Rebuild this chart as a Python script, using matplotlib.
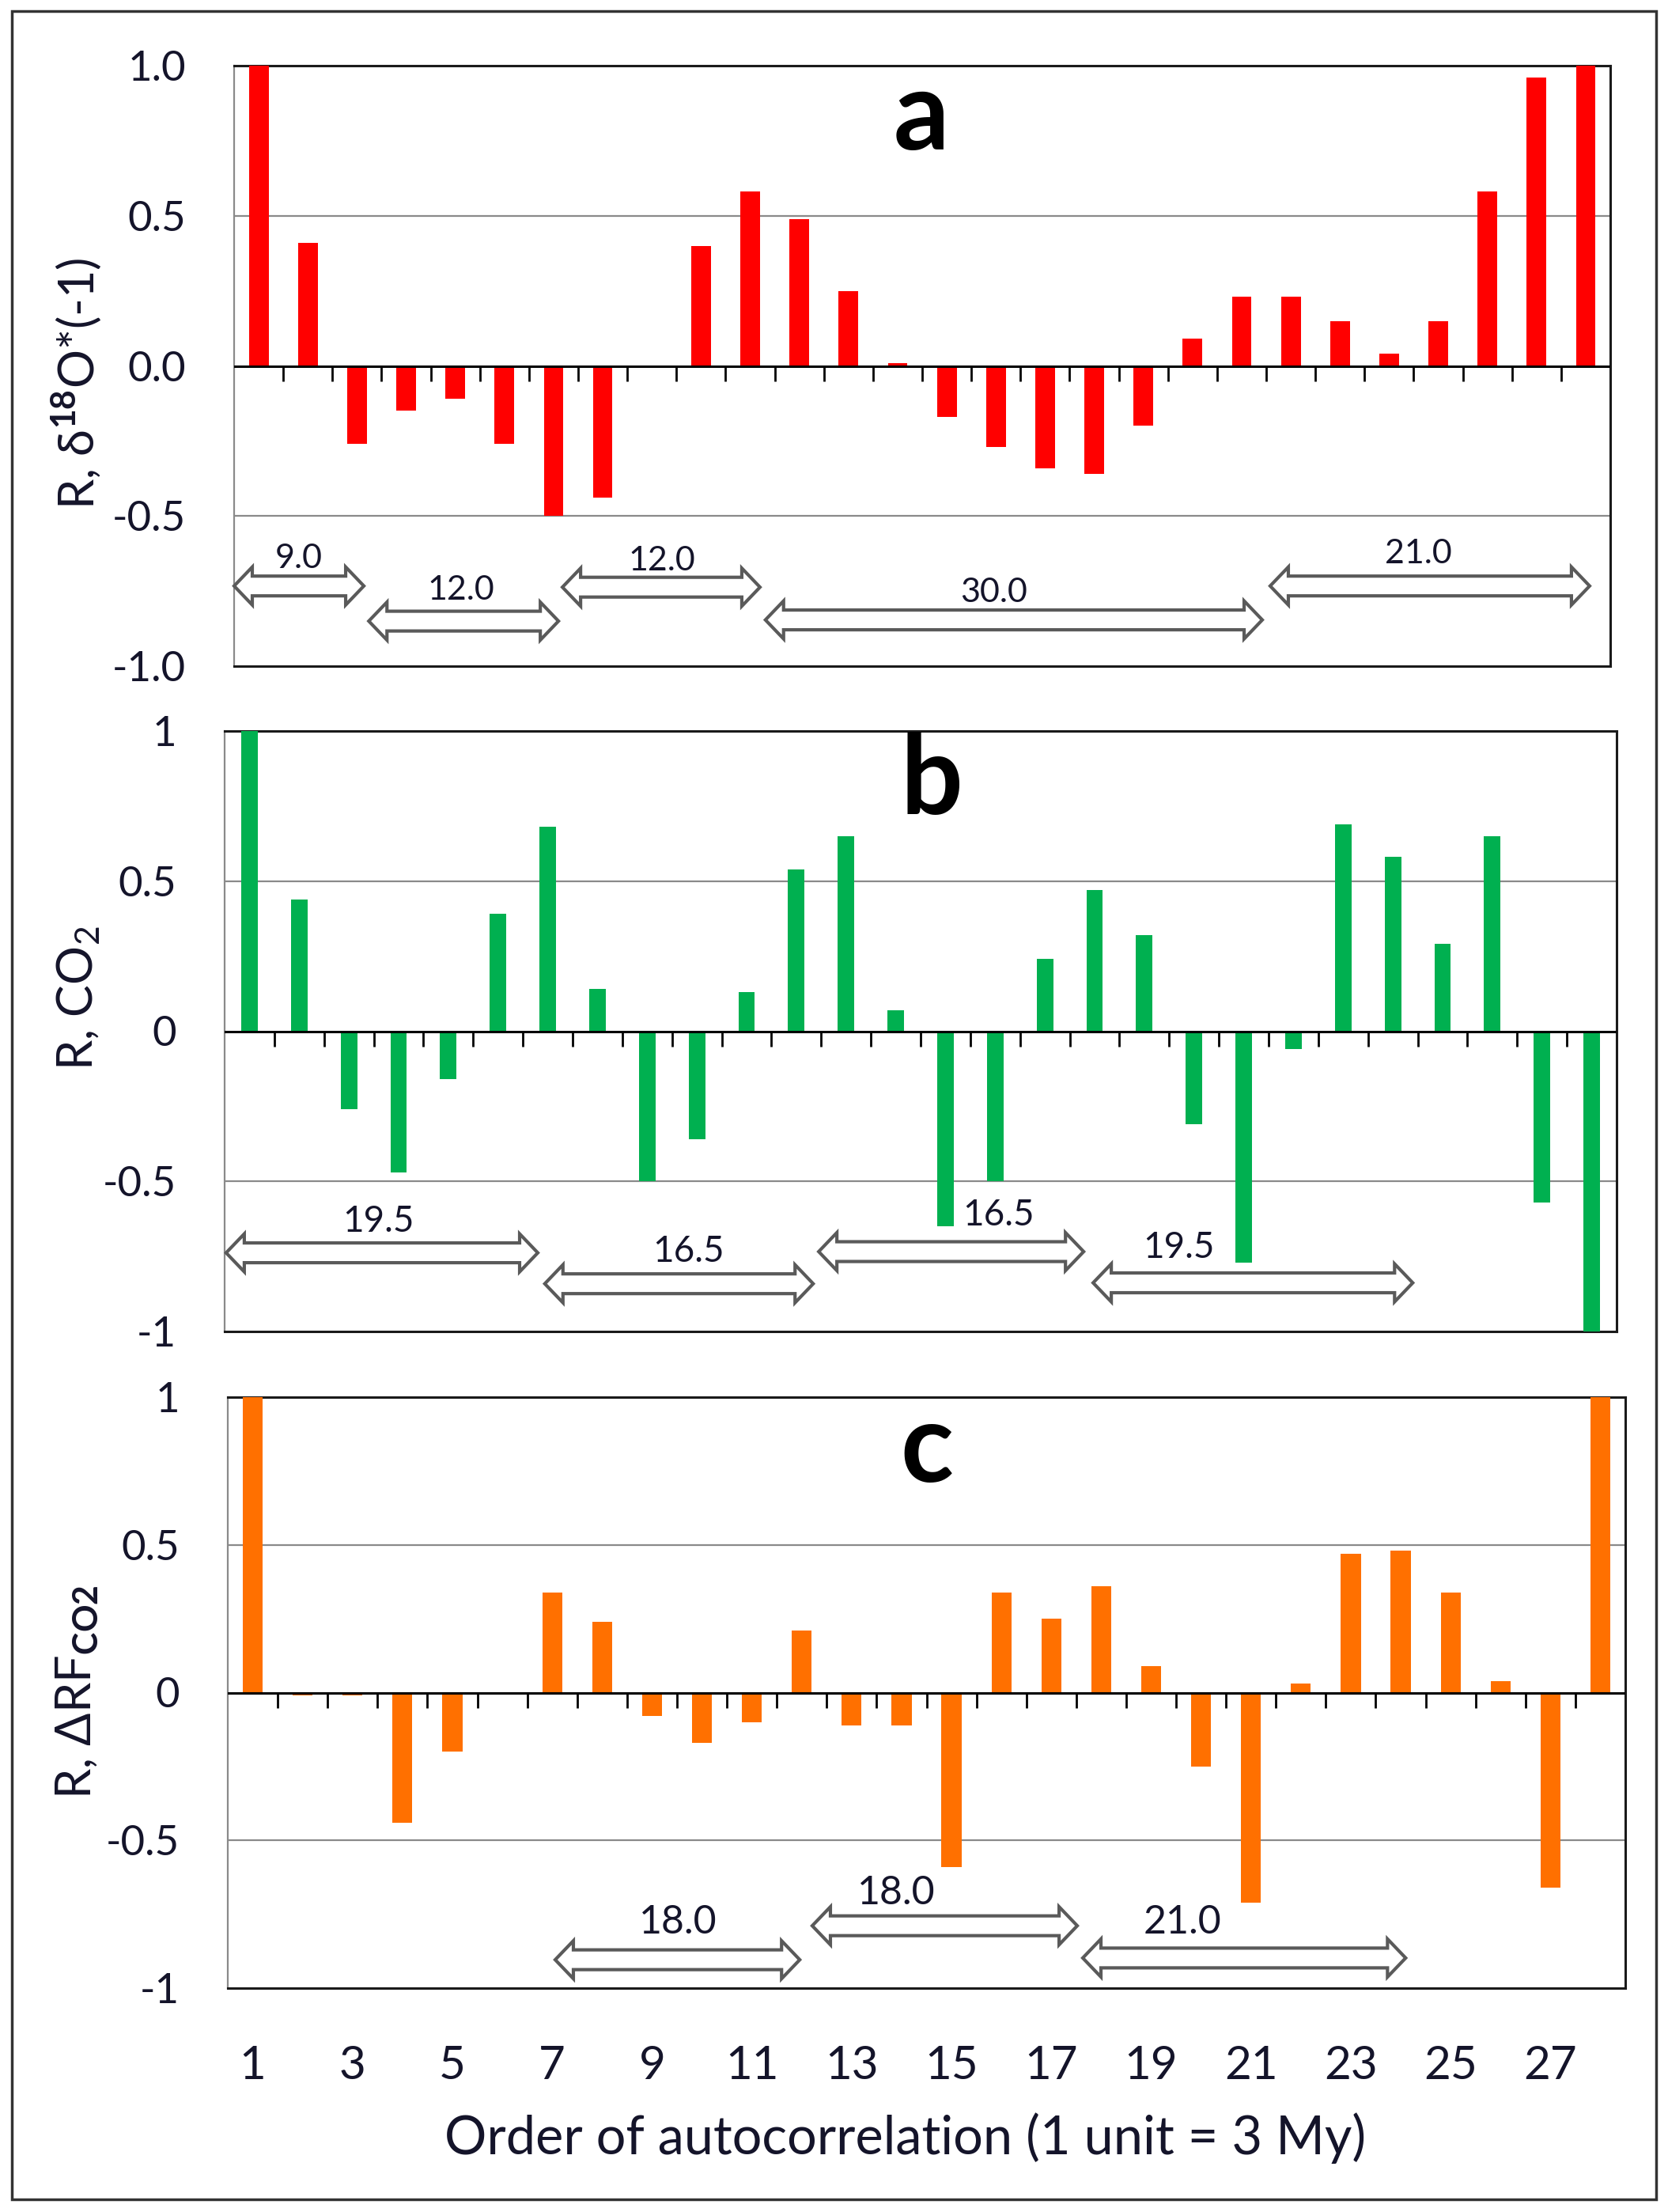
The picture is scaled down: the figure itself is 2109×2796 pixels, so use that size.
import numpy as np
import matplotlib
matplotlib.use('Agg')
import matplotlib.pyplot as plt
from matplotlib.patches import Polygon, Rectangle

plt.rcParams['font.family'] = ['Lato', 'DejaVu Sans']
plt.rcParams['mathtext.fontset'] = 'custom'
plt.rcParams['mathtext.rm'] = 'Lato'
plt.rcParams['mathtext.bf'] = 'Lato:bold'

# order of autocorrelation (1 unit = 3 My)
lag = np.arange(1, 29)

# a: R, d18O*(-1)
r_d18o = [1.00, 0.41, -0.26, -0.15, -0.11, -0.26, -0.50, -0.44, -0.005, 0.40,
          0.58, 0.49, 0.25, 0.01, -0.17, -0.27, -0.34, -0.36, -0.20, 0.09,
          0.23, 0.23, 0.15, 0.04, 0.15, 0.58, 0.96, 1.00]
# b: R, CO2
r_co2 = [1.00, 0.44, -0.26, -0.47, -0.16, 0.39, 0.68, 0.14, -0.50, -0.36,
         0.13, 0.54, 0.65, 0.07, -0.65, -0.50, 0.24, 0.47, 0.32, -0.31,
         -0.77, -0.06, 0.69, 0.58, 0.29, 0.65, -0.57, -1.00]
# c: R, dRF_CO2
r_rf = [1.00, -0.01, -0.01, -0.44, -0.20, 0.00, 0.34, 0.24, -0.08, -0.17,
        -0.10, 0.21, -0.11, -0.11, -0.59, 0.34, 0.25, 0.36, 0.09, -0.25,
        -0.71, 0.03, 0.47, 0.48, 0.34, 0.04, -0.66, 1.00]

# periods marked with double arrows: (start lag, end lag, level, label)
periods_a = [(0.5, 3.14, -0.733, '9.0'), (3.24, 7.10, -0.850, '12.0'),
             (7.18, 11.20, -0.737, '12.0'), (11.31, 21.42, -0.846, '30.0'),
             (21.58, 28.08, -0.733, '21.0')]
labpos_a = [(1.82, -0.642), (5.12, -0.748), (9.2, -0.65), (15.95, -0.755), (24.6, -0.627)]
periods_b = [(0.53, 6.80, -0.738, '19.5'), (6.94, 12.34, -0.841, '16.5'),
             (12.45, 17.78, -0.734, '16.5'), (17.97, 24.4, -0.838, '19.5')]
labpos_b = [(3.6, -0.634), (9.83, -0.734), (16.07, -0.613), (19.69, -0.72)]
periods_c = [(7.06, 11.96, -0.904, '18.0'), (12.21, 17.52, -0.789, '18.0'),
             (17.63, 24.1, -0.898, '21.0')]
labpos_c = [(9.52, -0.778), (13.89, -0.679), (19.63, -0.778)]

W, H = 2109, 2796
fig = plt.figure(figsize=(W / 100, H / 100), dpi=100)
txt = '#14142a'


def double_arrow(ax, x0, x1, y, pxx, pxy):
    hl = 23 / pxx
    sh = 12.5 / pxy
    hh = 24 / pxy
    v = [(x0, y), (x0 + hl, y + hh), (x0 + hl, y + sh), (x1 - hl, y + sh),
         (x1 - hl, y + hh), (x1, y), (x1 - hl, y - hh), (x1 - hl, y - sh),
         (x0 + hl, y - sh), (x0 + hl, y - hh)]
    ax.add_patch(Polygon(v, closed=True, facecolor='white', edgecolor='#5a5a5a',
                         lw=3.0, joinstyle='miter', clip_on=False, zorder=4))


def panel(box, vals, color, bw, yticklabels, letter, letter_xy, periods, labpos, fs_ann):
    l, t, r, b = box
    ax = fig.add_axes([l / W, 1 - b / H, (r - l) / W, (b - t) / H])
    pxx = (r - l) / 28.0
    pxy = (b - t) / 2.0
    ax.bar(lag, vals, width=bw, color=color, zorder=3)
    ax.set_xlim(0.5, 28.5)
    ax.set_ylim(-1, 1)
    ax.set_yticks([1, 0.5, 0, -0.5, -1])
    ax.set_yticklabels(yticklabels)
    for g in (0.5, -0.5):
        ax.axhline(g, color='#8a8a8a', lw=1.6, zorder=1)
    ax.axhline(0, color='black', lw=2.2, zorder=4)
    edges = np.arange(1, 28) + 0.5
    ax.vlines(edges, -19 / pxy, 0, color='black', lw=2.0, zorder=4)
    for s in ('top', 'right', 'bottom'):
        ax.spines[s].set_color('#1a1a1a')
        ax.spines[s].set_linewidth(2.2)
    ax.spines['left'].set_color('#8a8a8a')
    ax.spines['left'].set_linewidth(1.6)
    ax.tick_params(axis='y', length=0, pad=44, labelsize=38, labelcolor=txt)
    ax.tick_params(axis='x', length=0)
    ax.set_xticks([])
    for (x0, x1, y, lab), (lx, ly) in zip(periods, labpos):
        double_arrow(ax, x0, x1, y, pxx, pxy)
        ax.text(lx, ly, lab, ha='center', va='center', fontsize=fs_ann, color=txt, zorder=5)
    fig.text(letter_xy[0] / W, 1 - letter_xy[1] / H, letter, ha='center', va='center',
             fontsize=100, fontweight='bold', color='black')
    return ax


ax_a = panel((296, 83, 2036, 842), r_d18o, '#ff0000', 0.4, ['1.0', '0.5', '0.0', '-0.5', '-1.0'],
             'a', (1165, 149), periods_a, labpos_a, 31)
ax_b = panel((284, 924, 2044, 1683), r_co2, '#00b050', 0.33, ['1', '0.5', '0', '-0.5', '-1'],
             'b', (1178, 988), periods_b, labpos_b, 33)
ax_c = panel((288, 1766, 2055, 2513), r_rf, '#ff7000', 0.4, ['1', '0.5', '0', '-0.5', '-1'],
             'c', (1172, 1833), periods_c, labpos_c, 36)

ax_c.set_xticks(np.arange(1, 28, 2))
ax_c.set_xticklabels([str(i) for i in range(1, 28, 2)])
ax_c.tick_params(axis='x', length=0, pad=52, labelsize=42, labelcolor=txt)

fig.text(97 / W, 1 - 485 / H, r'R, δ$^{\mathbf{18}}$O*(-1)', rotation=90, ha='center', va='center',
         fontsize=44, color=txt)
fig.text(99 / W, 1 - 1262 / H, r'R, CO$_2$', rotation=90, ha='center', va='center',
         fontsize=44, color=txt)
fig.text(98 / W, 1 - 2139 / H, r'R, ΔRF$_{\mathbf{CO2}}$', rotation=90, ha='center', va='center',
         fontsize=44, color=txt)
fig.text(1145 / W, 1 - 2703 / H, 'Order of autocorrelation (1 unit = 3 My)', ha='center',
         va='center', fontsize=48, color=txt)

fig.patches.append(Rectangle((15 / W, 1 - 2780 / H), (2094 - 15) / W, (2780 - 14) / H,
                             transform=fig.transFigure, fill=False, edgecolor='#333333', lw=2.5))

fig.savefig('out.png', dpi=100)
